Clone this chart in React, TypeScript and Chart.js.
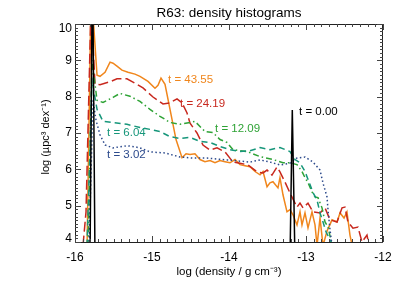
import React, { useEffect, useRef } from 'react';
import { Chart, registerables } from 'chart.js';

Chart.register(...registerables);

const FONT = '"Liberation Sans", Arial, Helvetica, sans-serif';

const TITLE = 'R63: density histograms';
const X_TITLE = 'log (density / g cm⁻³)';
const Y_TITLE = 'log (µpc³ dex⁻¹)';

const X_MIN = -16;
const X_MAX = -12;
const Y_MIN = 4;
const Y_MAX = 10;

// t = 43.55 (orange, solid)
const orangeX = [-15.844, -15.79, -15.714, -15.675, -15.61, -15.545, -15.506, -15.455, -15.39, -15.312, -15.221, -15.156, -15.052, -14.961, -14.922, -14.883, -14.831, -14.766, -14.688, -14.61, -14.558, -14.506, -14.442, -14.377, -14.312, -14.247, -14.182, -14.117, -14.052, -13.987, -13.922, -13.857, -13.792, -13.727, -13.662, -13.597, -13.558, -13.506, -13.468, -13.429, -13.364, -13.338, -13.299, -13.247, -13.208, -13.169, -13.117, -13.078, -13.052, -13.013, -12.974, -12.922, -12.883, -12.857, -12.818, -12.779, -12.727, -12.662, -12.597, -12.558, -12.506, -12.468, -12.429, -12.39];
const orangeY = [3.8, 11.0, 8.59, 8.56, 8.67, 8.95, 8.92, 8.84, 8.73, 8.67, 8.62, 8.56, 8.42, 8.23, 8.31, 8.51, 8.34, 7.65, 6.82, 6.32, 6.43, 6.41, 6.43, 6.27, 6.21, 6.24, 6.18, 6.24, 6.21, 6.18, 6.27, 6.13, 6.1, 6.07, 5.94, 5.85, 5.94, 5.52, 5.63, 5.66, 5.49, 5.77, 5.3, 4.83, 4.89, 4.75, 4.47, 4.83, 4.47, 4.8, 4.39, 4.83, 4.47, 3.9, 4.66, 3.9, 4.3, 4.61, 4.55, 4.8, 4.66, 4.83, 4.19, 3.8];

// t = 24.19 (red, long dashes)
const redX = [-15.896, -15.857, -15.792, -15.74, -15.675, -15.545, -15.455, -15.325, -15.247, -15.117, -14.987, -14.857, -14.766, -14.675, -14.61, -14.545, -14.506, -14.416, -14.338, -14.247, -14.156, -14.052, -13.948, -13.857, -13.753, -13.636, -13.558, -13.506, -13.442, -13.377, -13.338, -13.273, -13.208, -13.117, -13.078, -13.039, -12.974, -12.909, -12.818, -12.753, -12.688, -12.597, -12.532, -12.494, -12.455, -12.39, -12.325, -12.273, -12.208, -12.182];
const redY = [3.9, 4.83, 10.5, 8.34, 8.33, 8.41, 8.49, 8.49, 8.4, 8.24, 7.99, 7.8, 7.83, 7.94, 7.83, 7.55, 7.27, 7.0, 6.67, 6.53, 6.59, 6.48, 6.2, 6.17, 6.12, 5.93, 5.9, 5.98, 5.84, 6.06, 5.93, 5.65, 5.35, 4.96, 5.07, 4.94, 5.07, 4.83, 4.8, 4.94, 4.61, 4.55, 4.94, 4.96, 4.55, 4.38, 4.41, 4.0, 4.19, 3.9];

// t = 12.09 (green, dash-dot)
const greenX = [-15.831, -15.779, -15.714, -15.636, -15.506, -15.416, -15.286, -15.156, -15.026, -14.896, -14.766, -14.636, -14.506, -14.442, -14.377, -14.312, -14.208, -14.117, -14.026, -13.948, -13.766, -13.597, -13.429, -13.299, -13.208, -13.117, -13.052, -13.013, -12.974, -12.922, -12.883, -12.844, -12.792, -12.753, -12.714, -12.662];
const greenY = [3.9, 9.0, 7.9, 7.84, 7.98, 8.09, 8.01, 7.87, 7.65, 7.46, 7.29, 7.24, 7.29, 7.32, 7.18, 7.04, 7.01, 6.82, 6.74, 6.54, 6.49, 6.35, 6.27, 6.18, 6.18, 6.13, 5.94, 5.77, 5.63, 5.38, 5.24, 5.22, 4.94, 4.55, 4.42, 3.9];

// t = 6.04 (teal, dashed)
const tealX = [-15.844, -15.779, -15.714, -15.636, -15.506, -15.325, -15.156, -15.026, -14.896, -14.766, -14.636, -14.506, -14.377, -14.247, -14.117, -13.987, -13.857, -13.727, -13.597, -13.468, -13.338, -13.208, -13.143, -13.078, -13.013, -12.948, -12.909, -12.857, -12.818, -12.779, -12.74, -12.688, -12.649];
const tealY = [3.9, 8.45, 7.65, 7.32, 7.29, 7.24, 7.15, 7.1, 7.04, 6.9, 6.85, 6.88, 6.77, 6.74, 6.63, 6.54, 6.49, 6.51, 6.6, 6.54, 6.6, 6.49, 6.27, 6.18, 5.94, 5.58, 5.36, 5.16, 4.8, 4.55, 4.28, 4.06, 3.9];

// t = 3.02 (navy, dotted)
const navyX = [-15.818, -15.766, -15.727, -15.675, -15.61, -15.506, -15.416, -15.325, -15.221, -15.156, -15.026, -14.831, -14.636, -14.468, -14.286, -14.026, -13.727, -13.597, -13.468, -13.338, -13.208, -13.117, -13.013, -12.909, -12.818, -12.779, -12.727, -12.714, -12.688, -12.662];
const navyY = [3.9, 7.9, 7.35, 6.95, 6.67, 6.59, 6.62, 6.65, 6.62, 6.59, 6.48, 6.45, 6.34, 6.31, 6.31, 6.26, 6.2, 6.26, 6.2, 6.12, 6.17, 6.31, 6.34, 6.2, 5.98, 5.62, 5.24, 4.88, 4.33, 3.9];

// t = 0.00 (black, solid)
const blackX = [-15.805, -15.773, -15.74, -13.208, -13.178, -13.143];
const blackY = [3.5, 12.0, 3.5, 3.5, 7.63, 3.5];

const labelTexts = ['t = 43.55', 't = 24.19', 't = 12.09', 't = 6.04', 't = 3.02', 't = 0.00'];
const labelX = [-14.792, -14.636, -14.182, -15.584, -15.584, -13.091];
const labelY = [8.46, 7.8, 7.11, 7.0, 6.39, 7.58];

const COLORS = ['#f0861c', '#c8281e', '#2fa336', '#16967a', '#2c4a8c', '#000000'];
const DASHES: number[][] = [[], [10, 4], [6, 3, 1.5, 3], [6, 4], [1.5, 2.5], []];

const seriesX = [orangeX, redX, greenX, tealX, navyX, blackX];
const seriesY = [orangeY, redY, greenY, tealY, navyY, blackY];

const X_TICKS = [-16, -15, -14, -13, -12];
const Y_TICKS = [4, 5, 6, 7, 8, 9, 10];

const framePlugin = {
  id: 'frameAndText',
  afterDatasetsDraw(chart: any) {
    const ctx = chart.ctx;
    const { left, right, top, bottom } = chart.chartArea;
    const xs = chart.scales.x;
    const ys = chart.scales.y;
    ctx.save();
    // series labels
    ctx.font = `11.5px ${FONT}`;
    ctx.textBaseline = 'middle';
    ctx.textAlign = 'left';
    labelTexts.forEach((t, i) => {
      ctx.fillStyle = COLORS[i];
      ctx.fillText(t, xs.getPixelForValue(labelX[i]), ys.getPixelForValue(labelY[i]));
    });
    // frame
    ctx.strokeStyle = '#222';
    ctx.lineWidth = 1;
    ctx.strokeRect(Math.round(left) + 0.5, Math.round(top) + 0.5, Math.round(right - left) - 1, Math.round(bottom - top));
    ctx.strokeStyle = '#444';
    for (let i = 0; i <= (X_MAX - X_MIN) * 10; i++) {
      const v = X_MIN + i / 10;
      const px = Math.round(xs.getPixelForValue(v)) + 0.5;
      const len = i % 10 === 0 ? 6 : 3;
      ctx.beginPath();
      ctx.moveTo(px, bottom);
      ctx.lineTo(px, bottom - len);
      ctx.moveTo(px, top);
      ctx.lineTo(px, top + len);
      ctx.stroke();
    }
    for (let i = 0; i <= (Y_MAX - Y_MIN) * 10; i++) {
      const v = Y_MIN + i / 10;
      const py = Math.round(ys.getPixelForValue(v)) + 0.5;
      const len = i % 10 === 0 ? 6 : 3;
      ctx.beginPath();
      ctx.moveTo(left, py);
      ctx.lineTo(left + len, py);
      ctx.moveTo(right, py);
      ctx.lineTo(right - len, py);
      ctx.stroke();
    }
    // y tick labels (kept inside the frame at the ends)
    ctx.fillStyle = '#000';
    ctx.font = `12px ${FONT}`;
    ctx.textAlign = 'right';
    ctx.textBaseline = 'middle';
    Y_TICKS.forEach((v) => {
      let py = ys.getPixelForValue(v);
      py = Math.min(Math.max(py, top + 5), bottom - 3);
      ctx.fillText(String(v), left - 3, py);
    });
    // titles
    ctx.textAlign = 'center';
    ctx.font = `13.5px ${FONT}`;
    ctx.fillText(TITLE, (left + right) / 2, 13);
    ctx.font = `11.5px ${FONT}`;
    ctx.fillText(X_TITLE, (left + right) / 2, 272);
    ctx.font = `11px ${FONT}`;
    ctx.translate(46, (top + bottom) / 2 + 4);
    ctx.rotate(-Math.PI / 2);
    ctx.fillText(Y_TITLE, 0, 0);
    ctx.restore();
  },
};

export default function App() {
  const ref = useRef<HTMLCanvasElement | null>(null);
  useEffect(() => {
    if (!ref.current) return;
    const datasets = seriesX.map((xs, i) => ({
      label: labelTexts[i],
      data: xs.map((x, j) => ({ x, y: seriesY[i][j] })),
      borderColor: COLORS[i],
      backgroundColor: COLORS[i],
      borderWidth: 1.5,
      borderDash: DASHES[i],
      showLine: true,
      pointRadius: 0,
      tension: 0,
      fill: false,
      order: i === 5 ? 0 : 6 - i,
    }));
    const chart = new Chart(ref.current, {
      type: 'scatter',
      data: { datasets },
      options: {
        animation: false,
        responsive: false,
        devicePixelRatio: 1,
        layout: { padding: { top: 24, right: 24, left: 0, bottom: 0 } },
        plugins: { legend: { display: false }, tooltip: { enabled: false }, title: { display: false } },
        scales: {
          x: {
            type: 'linear',
            min: X_MIN,
            max: X_MAX,
            afterBuildTicks: (s: any) => { s.ticks = X_TICKS.map((v) => ({ value: v })); },
            afterFit: (s: any) => { s.height = 49; },
            grid: { display: false, drawTicks: false },
            border: { display: false },
            ticks: { padding: 8, color: '#000', font: { family: FONT, size: 12 }, maxRotation: 0, callback: (v: any) => String(v) },
          },
          y: {
            type: 'linear',
            min: Y_MIN,
            max: Y_MAX,
            afterBuildTicks: (s: any) => { s.ticks = Y_TICKS.map((v) => ({ value: v })); },
            afterFit: (s: any) => { s.width = 75; },
            grid: { display: false, drawTicks: false },
            border: { display: false },
            ticks: { display: false },
          },
        },
      },
      plugins: [framePlugin],
    });
    return () => chart.destroy();
  }, []);
  return (
    <div style={{ position: 'fixed', left: 0, top: 0, width: 407, height: 291, background: '#fff' }}>
      <canvas ref={ref} width={407} height={291} style={{ display: 'block' }} />
    </div>
  );
}
